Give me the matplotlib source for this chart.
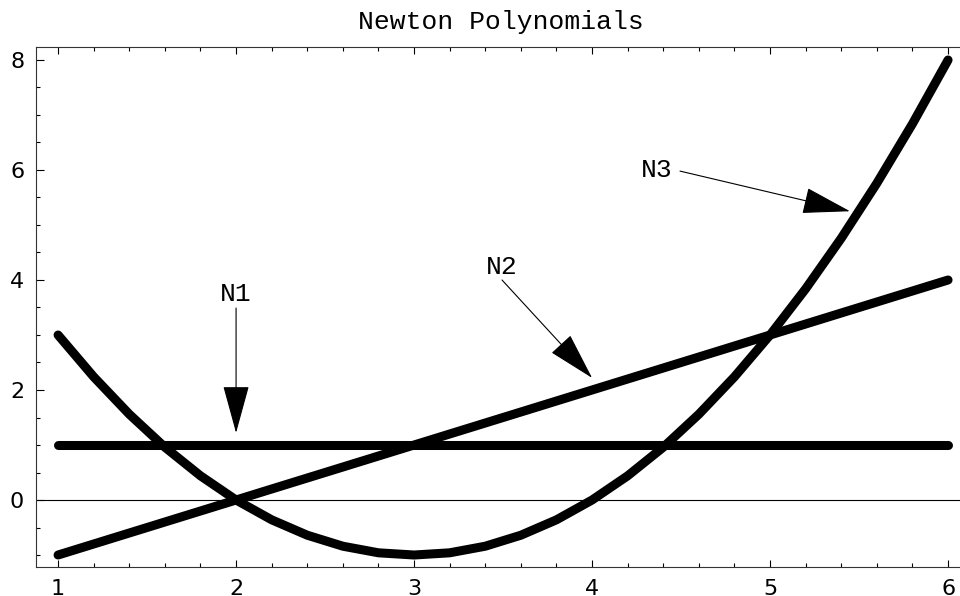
import matplotlib
matplotlib.use("Agg")
import matplotlib.pyplot as plt
from matplotlib.patches import FancyArrowPatch
from matplotlib.ticker import MultipleLocator

# Data
x_lin = [1.0, 6.0]
n1_vals = [1.0, 1.0]
n2_vals = [-1.0, 4.0]
x_n3 = [1.0, 1.2, 1.4, 1.6, 1.8, 2.0, 2.2, 2.4, 2.6, 2.8, 3.0, 3.2, 3.4,
        3.6, 3.8, 4.0, 4.2, 4.4, 4.6, 4.8, 5.0, 5.2, 5.4, 5.6, 5.8, 6.0]
n3_vals = [3.0, 2.24, 1.56, 0.96, 0.44, 0.0, -0.36, -0.64, -0.84, -0.96, -1.0,
           -0.96, -0.84, -0.64, -0.36, 0.0, 0.44, 0.96, 1.56, 2.24, 3.0,
           3.84, 4.76, 5.76, 6.84, 8.0]
title = "Newton Polynomials"
labels = ["N1", "N2", "N3"]
label_pos = [(2.0, 3.74), (3.494, 4.24), (4.365, 6.0)]
arrow_start = [(2.0, 3.49), (3.494, 4.0), (4.494, 5.98)]
arrow_end = [(2.0, 1.22), (4.0, 2.22), (5.449, 5.25)]
x_ticks = [1, 2, 3, 4, 5, 6]
y_ticks = [0, 2, 4, 6, 8]

fig = plt.figure(figsize=(9.6, 5.96), dpi=100)
ax = fig.add_axes([36 / 960, 1 - 567 / 596, 1 - 36 / 960, (567 - 47) / 596])
ax.set_xlim(0.876, 6.067)
ax.set_ylim(-1.218, 8.236)

ax.axhline(0, color="black", lw=0.8, zorder=1)

lw = 6.5
ax.plot(x_lin, n1_vals, color="black", lw=lw, solid_capstyle="round", zorder=3)
ax.plot(x_lin, n2_vals, color="black", lw=lw, solid_capstyle="round", zorder=3)
ax.plot(x_n3, n3_vals, color="black", lw=lw, solid_capstyle="round",
        solid_joinstyle="round", zorder=3)

mono = "Liberation Mono"
for lab, pos, st, en in zip(labels, label_pos, arrow_start, arrow_end):
    ax.text(pos[0], pos[1], lab, family=mono, fontsize=19, ha="center",
            va="center", color="black")
    arr = FancyArrowPatch(st, en, arrowstyle="-|>,head_length=31,head_width=8.5",
                          mutation_scale=1, color="black", lw=0.8,
                          shrinkA=0, shrinkB=0, zorder=4)
    ax.add_patch(arr)

ax.set_xticks(x_ticks)
ax.set_yticks(y_ticks)
ax.xaxis.set_minor_locator(MultipleLocator(0.2))
ax.yaxis.set_minor_locator(MultipleLocator(0.5))
ax.tick_params(which="both", direction="in", top=True, right=False,
               bottom=True, left=True, color="black", width=0.8)
ax.tick_params(which="major", length=5, pad=8.5, labelsize=16)
ax.tick_params(which="minor", length=3)
ax.tick_params(axis="y", which="major", length=6)
for lab in ax.get_xticklabels() + ax.get_yticklabels():
    lab.set_family("DejaVu Sans")

ax.spines["right"].set_visible(False)
for s in ["left", "bottom", "top"]:
    ax.spines[s].set_linewidth(0.8)
    ax.spines[s].set_color("#333333")

fig.text(501 / 960, 1 - 22 / 596, title, family=mono, fontsize=19,
         ha="center", va="center", color="black")

fig.savefig("out.png", dpi=100)
